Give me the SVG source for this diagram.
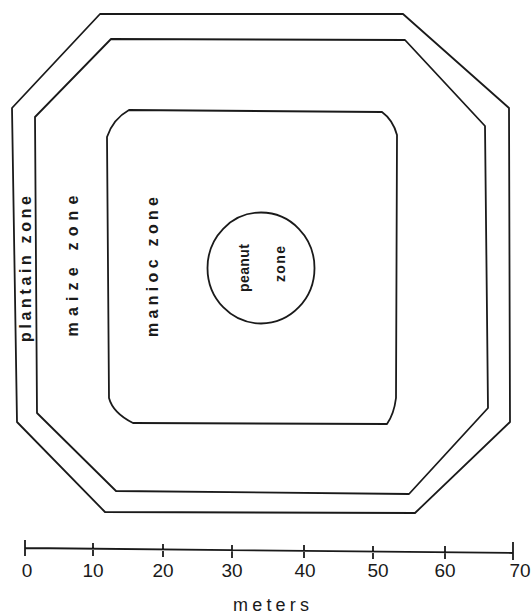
<svg xmlns="http://www.w3.org/2000/svg" width="531" height="614" viewBox="0 0 531 614">
<style>
.ln{fill:none;stroke:#1a1a1a;stroke-width:1.8;stroke-linejoin:round}
.lb{font-family:"Liberation Sans","DejaVu Sans",sans-serif;fill:#1a1a1a;font-weight:bold}
.zl{font-size:16px}
.zs{font-size:14px}
.nm{font-size:19px;font-weight:normal}
.mt{font-size:18px;font-weight:normal}
</style>
<rect width="531" height="614" fill="#ffffff"/>
<g id="plantain-zone">
<path class="ln" d="M100,14 L403,14 L509,108 L510,422 L415,513 L105,512 L17,422 L12,108 Z"/>
<text class="lb zl" transform="translate(25,269) rotate(-90)" text-anchor="middle" dominant-baseline="central" textLength="146" lengthAdjust="spacing">plantain  zone</text>
</g>
<g id="maize-zone">
<path class="ln" d="M111,39 L405,40 L485,126 L488,408 L409,494 L116,491 L37,413 L35,117 Z"/>
<text class="lb zl" transform="translate(72,266) rotate(-90)" text-anchor="middle" dominant-baseline="central" textLength="141" lengthAdjust="spacing">maize  zone</text>
</g>
<g id="manioc-zone">
<path class="ln" d="M129,110 L382,112 Q393,120 397,135 L396,398 Q394,414 387,424 L133,423 Q113,413 109,398 L107,137 Q113,119 129,110 Z"/>
<text class="lb zl" transform="translate(152,267) rotate(-90)" text-anchor="middle" dominant-baseline="central" textLength="140" lengthAdjust="spacing">manioc zone</text>
</g>
<g id="peanut-zone">
<ellipse class="ln" cx="261" cy="268" rx="53.5" ry="55.5"/>
<text class="lb zs" transform="translate(244,268) rotate(-90)" text-anchor="middle" dominant-baseline="central" textLength="48" lengthAdjust="spacing">peanut</text>
<text class="lb zs" transform="translate(280,264) rotate(-90)" text-anchor="middle" dominant-baseline="central" textLength="36" lengthAdjust="spacing">zone</text>
</g>
<g id="scale-bar">
<path class="ln" stroke-width="1.6" d="M25,548 L513,553 M25,540 V556 M93,543 V556 M163,544 V557 M232,545 V558 M304,545 V558 M373,546 V559 M445,546 V559 M513,542 V560"/>
<g class="lb nm" text-anchor="middle">
<text x="27" y="577">0</text>
<text x="93" y="577">10</text>
<text x="163" y="577">20</text>
<text x="232" y="577">30</text>
<text x="305" y="577">40</text>
<text x="378" y="577">50</text>
<text x="445" y="577">60</text>
<text x="520" y="577">70</text>
</g>
<text class="lb mt" x="271" y="611" text-anchor="middle" textLength="76" lengthAdjust="spacing">meters</text>
</g>
</svg>
